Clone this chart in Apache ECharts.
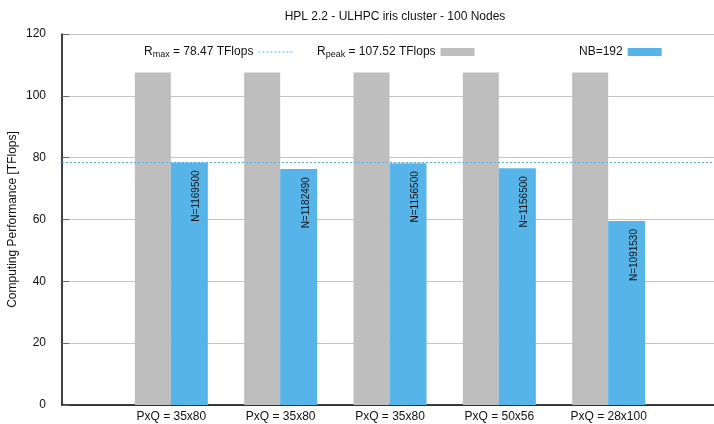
<!DOCTYPE html>
<html>
<head>
<meta charset="utf-8">
<script src="https://cdn.jsdelivr.net/npm/echarts@6/dist/echarts.min.js"></script>
<style>
  html, body { margin: 0; padding: 0; background: #fff; }
  #chart { width: 714px; height: 424px; }
</style>
</head>
<body>
<div id="chart"></div>
<script>
// categories (first/last empty slots pad the axis)
const categories = ['', 'PxQ = 35x80', 'PxQ = 35x80', 'PxQ = 35x80', 'PxQ = 50x56', 'PxQ = 28x100', ''];
const rpeakData = ['-', 107.52, 107.52, 107.52, 107.52, 107.52, '-'];
const rmaxData = ['-', 78.47, 76.3, 78.2, 76.6, 59.5, '-'];
const nLabels = ['', 'N=1169500', 'N=1182490', 'N=1156500', 'N=1156500', 'N=1091530', ''];
const rmaxLine = 78.47;

const font = 'Liberation Sans, Arial, Helvetica, sans-serif';
const chart = echarts.init(document.getElementById('chart'));

// dotted line icon for the Rmax legend entry
let dotted = 'path://';
for (let i = 0; i < 34; i += 4) dotted += 'M' + i + ',0h2v1h-2z';

const legendBase = {
  top: 41,
  align: 'right',
  itemWidth: 34,
  itemHeight: 8,
  textStyle: {
    fontFamily: font, fontSize: 12, color: '#111',
    rich: {
      sub: { fontSize: 9, verticalAlign: 'bottom', padding: [6, 0, 0, 0], fontFamily: font, color: '#111' },
      t: { fontSize: 12, fontFamily: font, color: '#111' }
    }
  },
  selectedMode: false
};

chart.setOption({
  animation: false,
  title: {
    text: 'HPL 2.2 - ULHPC iris cluster - 100 Nodes',
    left: 390, top: 6, textAlign: 'center',
    textStyle: { fontFamily: font, fontSize: 12, fontWeight: 'normal', color: '#111' }
  },
  legend: [
    Object.assign({}, legendBase, {
      left: 139,
      data: [{ name: 'Rmax', icon: dotted }],
      formatter: () => '{t|R}{sub|max}{t| = 78.47 TFlops}'
    }),
    Object.assign({}, legendBase, {
      left: 312,
      data: [{ name: 'Rpeak', icon: 'rect' }],
      formatter: () => '{t|R}{sub|peak}{t| = 107.52 TFlops}'
    }),
    Object.assign({}, legendBase, {
      left: 574,
      data: [{ name: 'NB=192', icon: 'rect' }]
    })
  ],
  grid: { left: 62, top: 34, width: 656, height: 371, outerBoundsMode: 'none', containLabel: false },
  xAxis: {
    type: 'category',
    data: categories,
    boundaryGap: false,
    axisLine: { lineStyle: { color: '#000', width: 1.5 } },
    axisTick: { show: false },
    axisLabel: { fontFamily: font, fontSize: 12, color: '#111', margin: 6, interval: 0 },
    splitLine: { show: false }
  },
  yAxis: {
    type: 'value',
    min: 0, max: 120, interval: 20,
    name: 'Computing Performance [TFlops]',
    nameLocation: 'middle',
    nameGap: 43,
    nameMoveOverlap: false,
    nameTextStyle: { fontFamily: font, fontSize: 12, color: '#111' },
    axisLine: { show: true, lineStyle: { color: '#000', width: 1.5 } },
    axisTick: { show: true, inside: true, length: 7, lineStyle: { color: '#666' } },
    axisLabel: { fontFamily: font, fontSize: 12, color: '#111', margin: 16 },
    splitLine: { show: true, lineStyle: { color: '#c4c4c4', width: 1 } }
  },
  series: [
    {
      name: 'Rmax',
      type: 'line',
      data: [],
      symbol: 'none',
      z: 1,
      itemStyle: { color: '#56b4e9' },
      lineStyle: { color: '#56b4e9', type: 'dotted', width: 1 },
      markLine: {
        silent: true,
        symbol: 'none',
        label: { show: false },
        lineStyle: { color: '#56b4e9', type: [2, 2], width: 1 },
        data: [{ yAxis: rmaxLine }]
      }
    },
    {
      name: 'Rpeak',
      type: 'bar',
      data: rpeakData,
      barWidth: 36,
      barGap: '0%',
      z: 3,
      itemStyle: { color: '#bebebe' }
    },
    {
      name: 'NB=192',
      type: 'bar',
      data: rmaxData,
      barWidth: 37,
      barGap: '0%',
      z: 3,
      itemStyle: { color: '#56b4e9' },
      label: {
        show: true,
        rotate: 90,
        position: ['70%', 8],
        align: 'right',
        verticalAlign: 'middle',
        fontFamily: font,
        fontSize: 10,
        color: '#111',
        formatter: p => nLabels[p.dataIndex]
      }
    }
  ]
});
</script>
</body>
</html>
